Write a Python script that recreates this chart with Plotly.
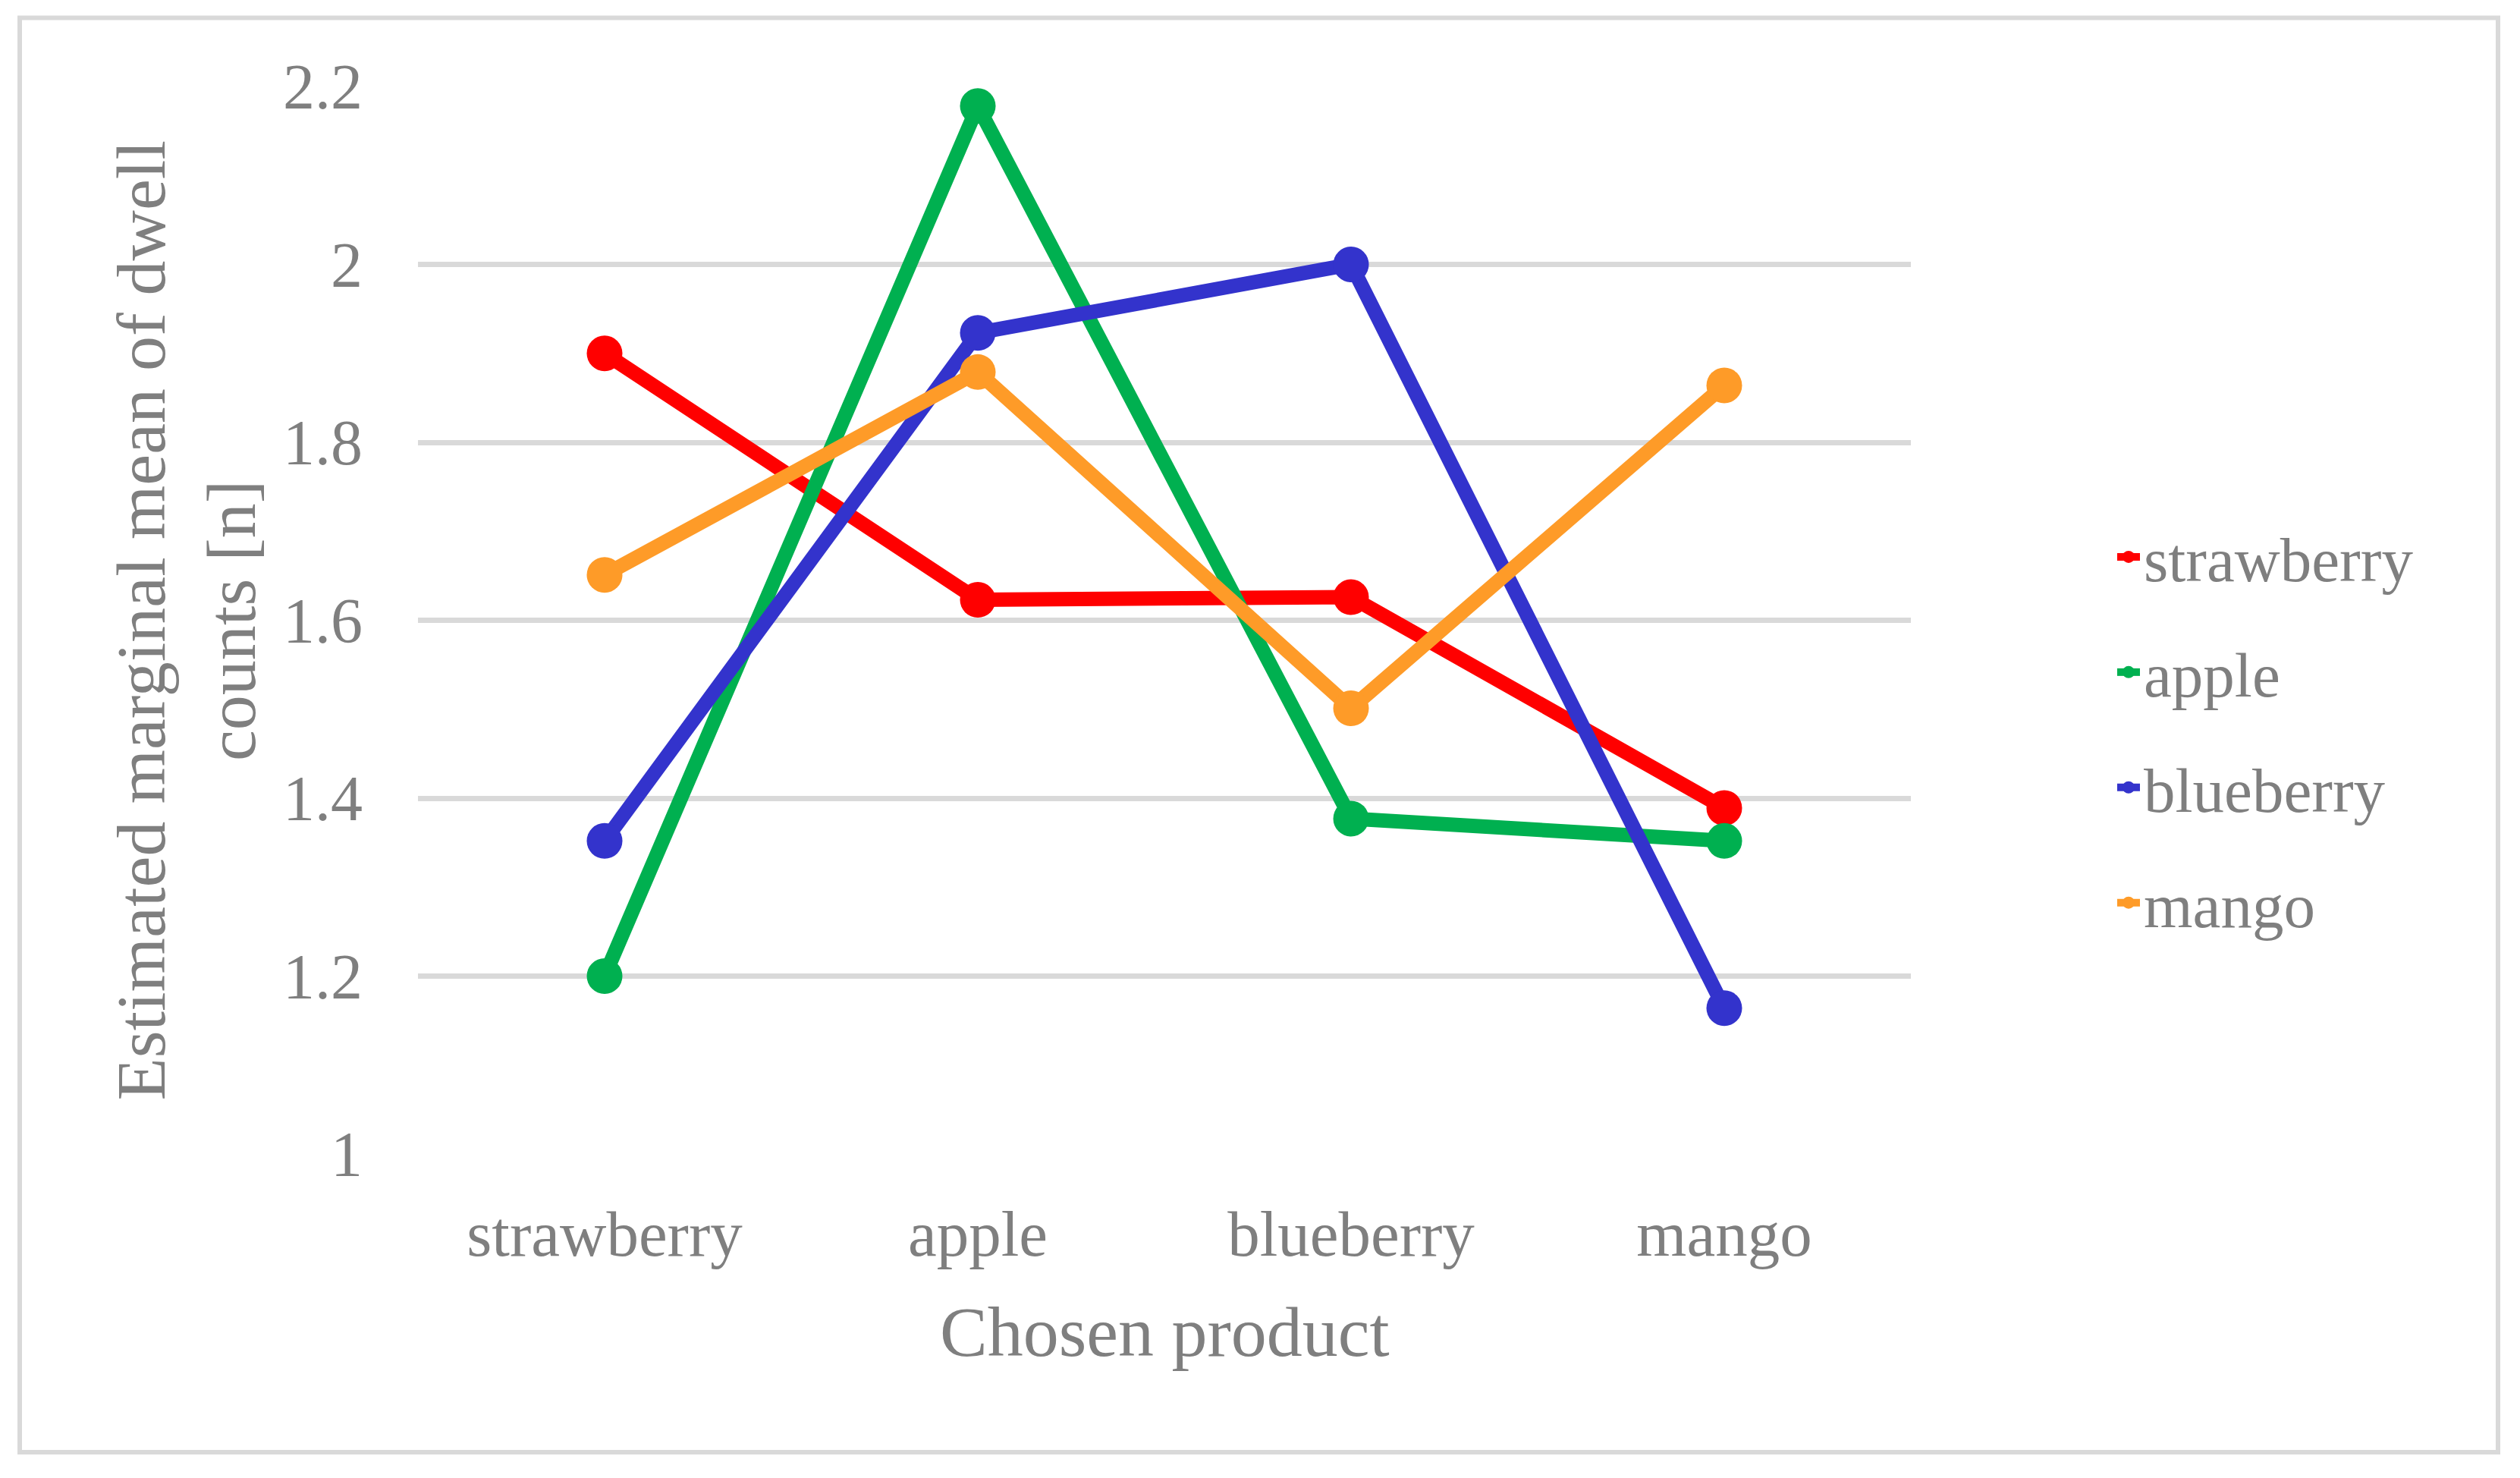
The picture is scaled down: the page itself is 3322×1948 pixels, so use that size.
import plotly.graph_objects as go

# ---- data ----
categories = ["strawberry", "apple", "blueberry", "mango"]
series_names = ["strawberry", "apple", "blueberry", "mango"]
strawberry_vals = [1.900, 1.623, 1.626, 1.389]
apple_vals = [1.200, 2.178, 1.377, 1.352]
blueberry_vals = [1.352, 1.923, 2.000, 1.164]
mango_vals = [1.651, 1.879, 1.501, 1.864]
y_ticks = [1, 1.2, 1.4, 1.6, 1.8, 2, 2.2]

series_values = [strawberry_vals, apple_vals, blueberry_vals, mango_vals]
colors = ["#FF0000", "#00B050", "#3333CC", "#FE9B28"]

# page is 3322x1948, body has an 8px margin
OFF = 8
W, H = 3322 - 2 * OFF, 1948 - 2 * OFF
# plot area in page pixels: x 551..2519, y 114..1521
L = 551 - OFF
T = 114 - OFF
R = W - (2519 - OFF)
B = H - (1521 - OFF)
PW, PH = W - L - R, H - T - B

FONT = "Liberation Serif"
GRAY = "#7F7F7F"


def px_x(p):
    return (p - OFF - L) / PW


def px_y(p):
    return (H - B - (p - OFF)) / PH


fig = go.Figure()
for name, vals, col in zip(series_names, series_values, colors):
    fig.add_trace(go.Scatter(
        x=categories, y=vals, name=name, mode="lines+markers",
        legendgroup=name,
        line=dict(color=col, width=19),
        marker=dict(color=col, size=47),
    ))

fig.update_layout(
    width=W, height=H,
    margin=dict(l=L, r=R, t=T, b=B, autoexpand=False),
    paper_bgcolor="white", plot_bgcolor="white",
    font=dict(family=FONT, color=GRAY, size=84),
    showlegend=True,
    legend=dict(
        x=px_x(2786), xanchor="left",
        y=px_y(962), yanchor="middle",
        font=dict(family=FONT, color=GRAY, size=83),
        tracegroupgap=41,
        bgcolor="rgba(0,0,0,0)",
    ),
    xaxis=dict(
        type="category", range=[-0.5, 3.5],
        showgrid=False, zeroline=False, showline=False, ticks="",
        tickfont=dict(family=FONT, color=GRAY, size=85),
        ticklabelstandoff=48,
    ),
    yaxis=dict(
        range=[1, 2.2], tickvals=y_ticks,
        showgrid=True, gridcolor="#D9D9D9", gridwidth=7,
        zeroline=False, showline=False, ticks="",
        tickfont=dict(family=FONT, color=GRAY, size=84),
        ticklabelstandoff=72,
    ),
    annotations=[
        dict(text="Chosen product", xref="paper", yref="paper",
             x=0.5, y=px_y(1755), xanchor="center", yanchor="middle",
             showarrow=False, font=dict(family=FONT, color=GRAY, size=94)),
        dict(text="Estimated marginal mean of dwell<br>counts [n]",
             xref="paper", yref="paper", x=px_x(245), y=0.5,
             xanchor="center", yanchor="middle", textangle=-90,
             showarrow=False, font=dict(family=FONT, color=GRAY, size=92)),
    ],
    shapes=[
        dict(type="rect", xref="paper", yref="paper",
             x0=px_x(26), x1=px_x(3293), y0=px_y(1914), y1=px_y(23.5),
             line=dict(color="#D9D9D9", width=6), fillcolor="rgba(0,0,0,0)",
             layer="below"),
    ],
)

fig.write_html("out.html")
